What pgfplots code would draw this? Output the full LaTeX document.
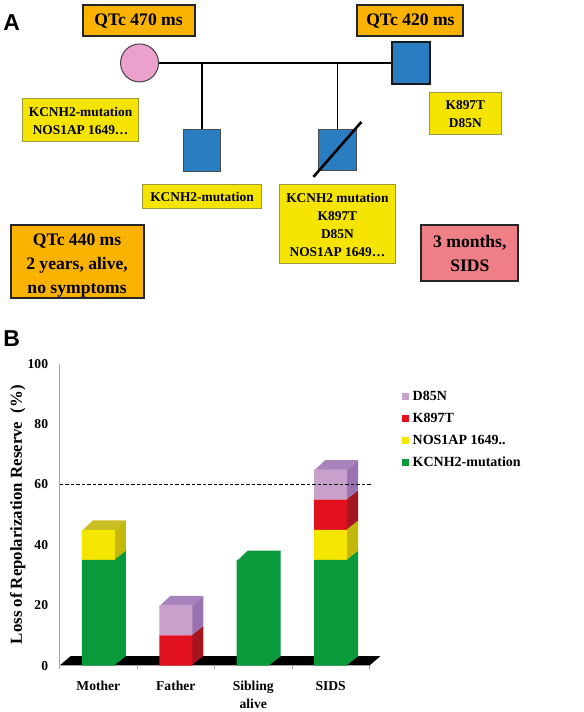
\documentclass[border=0pt]{standalone}
\usepackage{fontspec}
\setmainfont{Liberation Serif}
\newfontfamily\sansf{Liberation Sans}
\usepackage{pgfplots}
\pgfplotsset{compat=1.18}
\definecolor{cgreen}{HTML}{0A9A3C}
\definecolor{cyellow}{HTML}{F5E600}
\definecolor{cyellowd}{HTML}{C3B80A}
\definecolor{cred}{HTML}{E0101E}
\definecolor{credd}{HTML}{A3161E}
\definecolor{cpurple}{HTML}{C7A0CB}
\definecolor{cpurpled}{HTML}{9A72B0}
\definecolor{cpurplet}{HTML}{A983BE}
\definecolor{qorange}{HTML}{F9B200}
\definecolor{qyellow}{HTML}{F5E400}
\definecolor{yborder}{HTML}{9C9A3A}
\definecolor{cblue}{HTML}{2A7DC1}
\definecolor{cpink}{HTML}{EAA2CC}
\definecolor{csalmon}{HTML}{EF7F87}
\begin{document}
\begin{tikzpicture}
\path (0pt,0pt) rectangle (583pt,712pt);
% ---------------- Panel A (pedigree) ----------------
\begin{scope}[shift={(0pt,712pt)},x=1pt,y=-1pt]
\tikzset{qtext/.style={inner sep=0pt, align=center, font=\bfseries\fontsize{17.6}{24}\selectfont},
         ytext/.style={inner sep=0pt, align=center, font=\bfseries\fontsize{13.4}{18}\selectfont}}
\node[font=\sansf\bfseries\fontsize{23}{23}\selectfont] at (11,23) {A};
\draw[line width=2pt, draw=black!85, fill=qorange] (82,5) rectangle (194,36);
\node[qtext] at (138,21) {QTc 470 ms};
\draw[line width=2pt, draw=black!85, fill=qorange] (357,5) rectangle (463,36);
\node[qtext] at (410,21) {QTc 420 ms};
\draw[line width=1.6pt] (158,63) -- (392,63);
\draw[line width=1.6pt] (201.5,63) -- (201.5,130);
\draw[line width=1.6pt] (337,63) -- (337,130);
\draw[line width=1pt, draw=black!75, fill=cpink] (139,63) circle (19pt);
\draw[line width=2pt, draw=black!90, fill=cblue] (392,42) rectangle (430,84);
\draw[line width=1pt, draw=black!70, fill=cblue] (183,130) rectangle (220,172);
\draw[line width=1pt, draw=black!70, fill=cblue] (318,130) rectangle (356,171);
\draw[line width=2.6pt] (313,177) -- (361,122);
\draw[line width=0.9pt, draw=yborder, fill=qyellow] (22,99) rectangle (138,142);
\node[ytext] at (80,121) {KCNH2-mutation\\NOS1AP 1649\ldots};
\draw[line width=0.9pt, draw=yborder, fill=qyellow] (429,93) rectangle (501,135);
\node[ytext] at (465,114.3) {K897T\\D85N};
\draw[line width=0.9pt, draw=yborder, fill=qyellow] (142,185) rectangle (261,209);
\node[ytext] at (201.5,197) {KCNH2-mutation};
\draw[line width=0.9pt, draw=yborder, fill=qyellow] (279,185) rectangle (395,264);
\node[ytext] at (337,224.8) {KCNH2 mutation\\K897T\\D85N\\NOS1AP 1649\ldots};
\draw[line width=2pt, draw=black!85, fill=qorange] (10,225) rectangle (143,298);
\node[qtext] at (76.5,266) {QTc 440 ms\\2 years, alive,\\no symptoms};
\draw[line width=2pt, draw=black!85, fill=csalmon] (421,225) rectangle (518,281);
\node[qtext] at (469.5,253.7) {3 months,\\SIDS};
\node[font=\sansf\bfseries\fontsize{23}{23}\selectfont] at (11,339) {B};
\end{scope}
% ---------------- Panel B: 3D faces and floor ----------------
\begin{axis}[at={(59pt,46pt)}, anchor=south west, scale only axis,
  width=310pt, height=302pt, xmin=-0.5, xmax=3.5, ymin=0, ymax=100,
  hide axis, clip=false, no markers]
\addplot[fill=black, draw=none] coordinates {(-0.5,0) (3.5,0) (3.64,3.1) (-0.36,3.1)};
% Mother
\addplot[fill=cgreen, draw=none] coordinates {(0.2,0) (0.355,3.1) (0.355,38.1) (0.2,35)};
\addplot[fill=cyellowd, draw=none] coordinates {(0.2,35) (0.355,38.1) (0.355,48.1) (0.2,45)};
\addplot[fill=cyellowd!90!white, draw=none] coordinates {(-0.213,44.6) (-0.071,48.1) (0.355,48.1) (0.213,44.6)};
% Father
\addplot[fill=credd, draw=none] coordinates {(1.2,0) (1.355,3.1) (1.355,13.1) (1.2,10)};
\addplot[fill=cpurpled, draw=none] coordinates {(1.2,10) (1.355,13.1) (1.355,23.1) (1.2,20)};
\addplot[fill=cpurplet, draw=none] coordinates {(0.787,19.6) (0.929,23.1) (1.355,23.1) (1.213,19.6)};
% Sibling
\addplot[fill=cgreen, draw=none] coordinates {(2.2,0) (2.355,3.1) (2.355,38.1) (2.2,35)};
\addplot[fill=cgreen, draw=none] coordinates {(1.787,34.6) (1.929,38.1) (2.355,38.1) (2.213,34.6)};
% SIDS
\addplot[fill=cgreen, draw=none] coordinates {(3.2,0) (3.355,3.1) (3.355,38.1) (3.2,35)};
\addplot[fill=cyellowd, draw=none] coordinates {(3.2,35) (3.355,38.1) (3.355,48.1) (3.2,45)};
\addplot[fill=credd, draw=none] coordinates {(3.2,45) (3.355,48.1) (3.355,58.1) (3.2,55)};
\addplot[fill=cpurpled, draw=none] coordinates {(3.2,55) (3.355,58.1) (3.355,68.1) (3.2,65)};
\addplot[fill=cpurplet, draw=none] coordinates {(2.787,64.6) (2.929,68.1) (3.355,68.1) (3.213,64.6)};
\end{axis}
% ---------------- Panel B: stacked front faces ----------------
\begin{axis}[at={(59pt,46pt)}, anchor=south west, scale only axis,
  width=310pt, height=302pt, xmin=-0.5, xmax=3.5, ymin=0, ymax=100,
  ybar stacked, bar width=0.426,
  axis x line*=bottom, axis y line*=left,
  axis line style={draw=black!35, line width=0.8pt},
  ytick={0,20,40,60,80,100},
  xtick={0,1,2,3}, xticklabels={Mother,Father,{Sibling\\alive},SIDS},
  minor xtick={-0.5,0.5,1.5,2.5,3.5},
  major tick length=0pt, minor tick length=3.5pt, tick align=outside,
  minor x tick style={draw=black!35, line width=0.6pt},
  /pgf/number format/assume math mode=true,
  tick label style={font=\bfseries\fontsize{13.6}{18}\selectfont},
  xticklabel style={align=center, yshift=-12pt},
  yticklabel style={xshift=-8pt},
  ylabel={Loss of Repolarization Reserve\ \ (\%)},
  ylabel style={font=\bfseries\fontsize{16.8}{18}\selectfont, at={(axis description cs:-0.135,0.5)}, anchor=center},
  legend style={at={(1.094,0.921)}, anchor=north west, draw=none, fill=none,
     font=\bfseries\fontsize{14}{16}\selectfont, row sep=9.3pt,
     nodes={inner sep=1pt}},
  legend cell align=left, reverse legend,
  legend image code/.code={\fill[#1] (0pt,-3.5pt) rectangle (7pt,3.5pt); \path (0pt,0pt) -- (10pt,0pt);},
]
\addplot[fill=cgreen, draw=none] coordinates {(0,35) (1,0) (2,35) (3,35)};
\addlegendentry{KCNH2-mutation}
\addplot[fill=cyellow, draw=none] coordinates {(0,10) (1,0) (2,0) (3,10)};
\addlegendentry{NOS1AP 1649..}
\addplot[fill=cred, draw=none] coordinates {(0,0) (1,10) (2,0) (3,10)};
\addlegendentry{K897T}
\addplot[fill=cpurple, draw=none] coordinates {(0,0) (1,10) (2,0) (3,10)};
\addlegendentry{D85N}
\end{axis}
% ---------------- Panel B: threshold line ----------------
\begin{axis}[at={(59pt,46pt)}, anchor=south west, scale only axis,
  width=310pt, height=302pt, xmin=-0.5, xmax=3.5, ymin=0, ymax=100,
  hide axis, clip=false]
\addplot[black, line width=1pt, dash pattern=on 3.5pt off 2pt, mark=none] coordinates {(-0.5,60) (3.54,60)};
\end{axis}
\end{tikzpicture}
\end{document}
